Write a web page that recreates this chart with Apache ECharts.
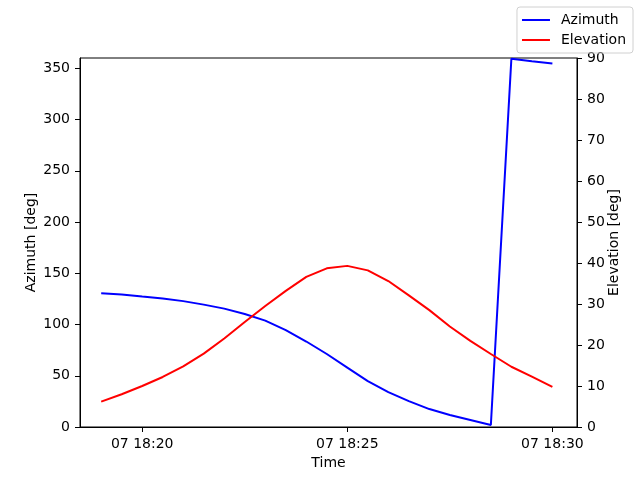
<!DOCTYPE html>
<html>
<head>
<meta charset="utf-8">
<script src="https://cdn.jsdelivr.net/npm/echarts@6/dist/echarts.min.js"></script>
<style>
  html, body { margin: 0; padding: 0; background: #fff; }
  #chart { width: 640px; height: 480px; }
</style>
</head>
<body>
<div id="chart"></div>
<script>
// pass samples, every 30 s
const times = [
  "18:19:00", "18:19:30", "18:20:00", "18:20:30", "18:21:00", "18:21:30",
  "18:22:00", "18:22:30", "18:23:00", "18:23:30", "18:24:00", "18:24:30",
  "18:25:00", "18:25:30", "18:26:00", "18:26:30", "18:27:00", "18:27:30",
  "18:28:00", "18:28:30", "18:29:00", "18:29:30", "18:30:00",
];
const azimuth = [
  130.6, 129.2, 127.2, 125.3, 122.8, 119.4, 115.5, 110.2, 103.8, 94.6, 83.4, 71.2,
  58.0, 44.8, 34.1, 25.3, 17.5, 11.7, 6.8, 1.9, 359.3, 356.8, 354.6,
];
const elevation = [
  6.2, 8.0, 10.0, 12.2, 14.8, 17.9, 21.6, 25.6, 29.5, 33.2, 36.6, 38.7,
  39.3, 38.2, 35.6, 32.1, 28.5, 24.5, 21.0, 17.8, 14.7, 12.3, 9.8,
];
const xTicks = ["18:20:00", "18:25:00", "18:30:00"];
const azTicks = [0, 50, 100, 150, 200, 250, 300, 350];
const elTicks = [0, 10, 20, 30, 40, 50, 60, 70, 80, 90];
const xRange = ["18:18:29", "18:30:36"];
const day = 7;

// seconds since midnight of the pass day
const toSec = (s) => {
  const [h, m, sec] = s.split(":").map(Number);
  return h * 3600 + m * 60 + sec;
};
const pad = (n) => String(n).padStart(2, "0");

const font = "DejaVu Sans";
const axisLine = { show: true, onZero: false, lineStyle: { color: "#000", width: 1 } };
const axisTick = { show: true, length: 5, lineStyle: { color: "#000", width: 1 } };

var myChart = echarts.init(document.getElementById("chart"));
myChart.setOption({
  animation: false,
  textStyle: { fontFamily: font, color: "#000" },
  grid: {
    left: 80,
    right: 63,
    top: 58,
    bottom: 53,
    show: true,
    borderColor: "#000",
    borderWidth: 1,
    backgroundColor: "transparent",
  },
  legend: {
    orient: "vertical",
    right: 7,
    top: 7,
    padding: [6, 7, 6, 5],
    itemGap: 6,
    itemWidth: 28,
    itemHeight: 2,
    icon: "rect",
    borderColor: "#d0d0d0",
    borderWidth: 1,
    borderRadius: 3,
    textStyle: { fontFamily: font, fontSize: 14, color: "#000", padding: [0, 0, 0, 6] },
    data: ["Azimuth", "Elevation"],
  },
  xAxis: {
    type: "value",
    min: toSec(xRange[0]),
    max: toSec(xRange[1]),
    name: "Time",
    nameLocation: "middle",
    nameGap: 28,
    nameTextStyle: { fontFamily: font, fontSize: 14, color: "#000" },
    axisLine,
    axisTick: { ...axisTick, customValues: xTicks.map(toSec) },
    splitLine: { show: false },
    axisLabel: {
      customValues: xTicks.map(toSec),
      margin: 10,
      fontFamily: font,
      fontSize: 14,
      color: "#000",
      formatter: (v) => pad(day) + " " + pad(Math.floor(v / 3600)) + ":" + pad(Math.floor((v % 3600) / 60)),
    },
  },
  yAxis: [
    {
      type: "value",
      min: 0,
      max: 360,
      position: "left",
      name: "Azimuth [deg]",
      nameLocation: "middle",
      nameRotate: 90,
      nameGap: 42,
      nameMoveOverlap: false,
      nameTextStyle: { fontFamily: font, fontSize: 14, color: "#000" },
      axisLine,
      axisTick: { ...axisTick, customValues: azTicks },
      splitLine: { show: false },
      axisLabel: { customValues: azTicks, margin: 10, fontFamily: font, fontSize: 14, color: "#000" },
    },
    {
      type: "value",
      min: 0,
      max: 90,
      position: "right",
      name: "Elevation [deg]",
      nameLocation: "middle",
      nameRotate: 90,
      nameGap: 30,
      nameMoveOverlap: false,
      nameTextStyle: { fontFamily: font, fontSize: 14, color: "#000" },
      axisLine,
      axisTick: { ...axisTick, customValues: elTicks },
      splitLine: { show: false },
      axisLabel: { customValues: elTicks, margin: 10, fontFamily: font, fontSize: 14, color: "#000" },
    },
  ],
  series: [
    {
      name: "Azimuth",
      type: "line",
      yAxisIndex: 0,
      symbol: "none",
      lineStyle: { color: "#0000ff", width: 2 },
      itemStyle: { color: "#0000ff" },
      data: times.map((t, i) => [toSec(t), azimuth[i]]),
    },
    {
      name: "Elevation",
      type: "line",
      yAxisIndex: 1,
      symbol: "none",
      lineStyle: { color: "#ff0000", width: 2 },
      itemStyle: { color: "#ff0000" },
      data: times.map((t, i) => [toSec(t), elevation[i]]),
    },
  ],
});
</script>
</body>
</html>
